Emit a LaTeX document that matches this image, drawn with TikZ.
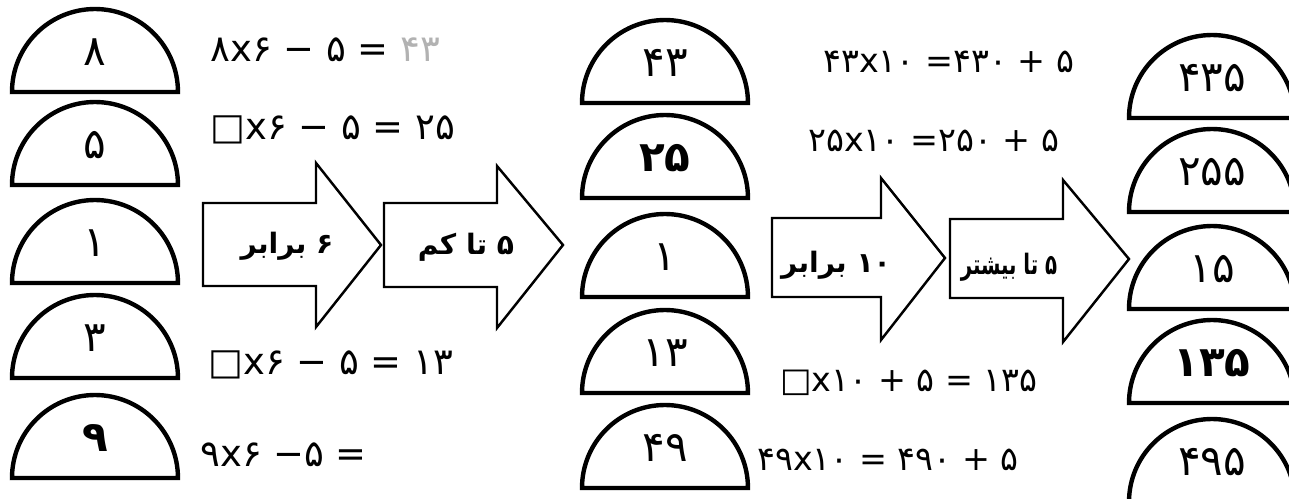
\documentclass[tikz,border=0pt]{standalone}
\usepackage{fontspec}
\usepackage{xcolor}
\usepackage{tikz}
\newfontfamily\farsi[Script=Arabic]{DejaVu Sans}
\newfontfamily\fanum{DejaVu Sans}
\TeXXeTstate=1
\usetikzlibrary{positioning}

\begin{document}
\begin{tikzpicture}[
    x=0.02cm, y=-0.02cm,
    half/.style={draw=black, line width=2.5pt, fill=white},
    num/.style={inner sep=0pt, font=\fanum\fontsize{24}{24}\selectfont},
    eq/.style={anchor=west, inner sep=0pt, font=\fanum\fontsize{21}{21}\selectfont},
    eqs/.style={eq, font=\fanum\fontsize{19}{19}\selectfont},
    flow/.style={draw=black, line width=1.4pt, fill=white, line join=miter},
    lbl/.style={inner sep=0pt, font=\farsi\bfseries\fontsize{16}{16}\selectfont}
]
    \useasboundingbox (0,0) rectangle (1289,499);
    \clip (0,0) rectangle (1289,499);

    % half discs with numbers
    \foreach \cx/\by/\n/\t in {
        95/92/p1/۸, 95/185/p2/۵, 95/283/p3/۱, 95/378/p4/۳, 95/478/p5/{\bfseries ۹},
        665/103/q1/۴۳, 665/198/q2/{\bfseries ۲۵}, 665/297/q3/۱, 665/393/q4/۱۳, 665/488/q5/۴۹,
        1212/118/r1/۴۳۵, 1212/212/r2/۲۵۵, 1212/309/r3/۱۵, 1212/403/r4/{\bfseries ۱۳۵}, 1212/502/r5/۴۹۵}
    {
        \draw [half] (\cx-83,\by) arc [start angle=180, end angle=0, radius=1.66cm] -- cycle;
        \node [num] (\n) at (\cx,\by-40) {\t};
    }

    % big arrows
    \draw [flow] (203,203) -- (316,203) -- (316,163) -- (381,245) -- (316,327) -- (316,286) -- (203,286) -- cycle;
    \draw [flow] (384,203) -- (497,203) -- (497,166) -- (563,245) -- (497,328) -- (497,287) -- (384,287) -- cycle;
    \draw [flow] (772,218) -- (881,218) -- (881,178) -- (945,258) -- (881,340) -- (881,297) -- (772,297) -- cycle;
    \draw [flow] (950,219) -- (1063,219) -- (1063,180) -- (1129,259) -- (1063,342) -- (1063,298) -- (950,298) -- cycle;

    \node [lbl] (m1) at (287,246) {\beginR ۶ برابر\endR};
    \node [lbl] (m2) at (466,247) {\beginR ۵ تا کم\endR};
    \node [lbl] (m3) at (836,265) {\beginR\beginL ۱۰\endL{} برابر\endR};
    \node [lbl] (m4) at (1009,267) {\scalebox{0.7}[1]{\beginR ۵ تا بیشتر\endR}};

    % worked lines, written left to right
    \node [eq] (e1) at (210,50) {۸x۶ − ۵ = {\color{black!30}۴۳}};
    \node [eq] (e2) at (210,130) {□x۶ − ۵ = ۲۵};
    \node [eq] (e3) at (208,365) {□x۶ − ۵ = ۱۳};
    \node [eq] (e4) at (200,455) {۹x۶ −۵ =};

    \node [eqs] (f1) at (823,62) {۴۳x۱۰ =۴۳۰ + ۵};
    \node [eqs] (f2) at (808,141) {۲۵x۱۰ =۲۵۰ + ۵};
    \node [eqs] (f3) at (780,383) {□x۱۰ + ۵ = ۱۳۵};
    \node [eqs] (f4) at (757,460) {۴۹x۱۰ = ۴۹۰ + ۵};
\end{tikzpicture}
\end{document}
